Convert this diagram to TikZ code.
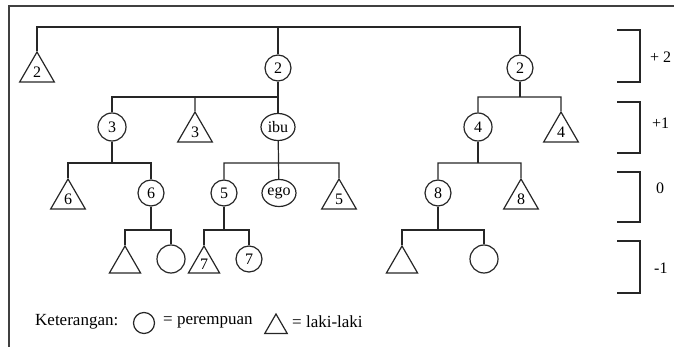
\documentclass[tikz,border=0pt]{standalone}
\usepackage{fontspec}
\setmainfont{Liberation Serif}
\usetikzlibrary{shapes.geometric,calc}
\begin{document}
\begin{tikzpicture}[x=1pt,y=-1pt,
  every node/.style={font=\fontsize{16}{19}\selectfont, inner sep=0pt},
  ln/.style={line width=1.2pt, draw=black!85},
  fem/.style={circle, ln, minimum size=26pt},
  femb/.style={circle, ln, minimum size=28pt},
  oval/.style={ellipse, ln, minimum width=34pt, minimum height=27pt},
  male/.style={regular polygon, regular polygon sides=3, ln, minimum size=40pt},
  males/.style={regular polygon, regular polygon sides=3, ln, minimum size=36pt},
  lab/.style={font=\fontsize{16}{19}\selectfont, anchor=west},
  leg/.style={font=\fontsize{17}{20}\selectfont, anchor=west}
]
\useasboundingbox (0,0) rectangle (674,347);
\draw[line width=1.4pt, draw=black!75] (9,347) -- (9,6) -- (674,6);

\coordinate (top) at (0,27);
\coordinate (b1) at (0,97);
\coordinate (b0) at (0,163);
\coordinate (bm) at (0,230);

% generation +2
\node[male] (t2L) at (37,72) {2};
\node[fem] (c2m) at (278,68) {2};
\node[fem] (c2r) at (520,68) {2};
% generation +1
\node[femb] (c3) at (112,127) {3};
\node[male] (t3) at (195,132) {3};
\node[oval] (ibu) at (278,127) {ibu};
\node[femb] (c4) at (478,127) {4};
\node[male] (t4) at (561,132) {4};
% generation 0
\node[male] (t6) at (68,199) {6};
\node[fem] (c6) at (151,193) {6};
\node[fem] (c5) at (224,193) {5};
\node[oval] (ego) at (279,193) {ego};
\node[male] (t5) at (339,199) {5};
\node[fem] (c8) at (438,193) {8};
\node[male] (t8) at (521,199) {8};
% generation -1
\node[males] (ta) at (125,264) {};
\node[femb] (ca) at (171,259) {};
\node[males] (t7) at (204,264) {7};
\node[fem] (c7) at (249,259) {7};
\node[males] (tb) at (402,264) {};
\node[femb] (cb) at (484,259) {};

% connectors
\draw[ln] (t2L.north) |- (top -| c2r) -- (c2r.north);
\draw[ln] (c2m.north) -- (c2m |- top);
\draw[ln] (c2m) -- (ibu);
\draw[ln] (c3.north) |- (b1 -| c2m);
\draw[ln] (t3.north) -- (t3 |- b1);
\draw[ln] (c2r.south) -- (c2r |- b1);
\draw[ln] (c4.north) |- (b1 -| t4) -- (t4.north);

\draw[ln] (c3.south) -- (c3 |- b0);
\draw[ln] (t6.north) |- (b0 -| c6) -- (c6.north);
\draw[ln] (ibu) -- (ego);
\draw[ln] (c5.north) |- (b0 -| t5) -- (t5.north);
\draw[ln] (c4.south) -- (c4 |- b0);
\draw[ln] (c8.north) |- (b0 -| t8) -- (t8.north);

\draw[ln] (c6.south) -- (c6 |- bm);
\draw[ln] (ta.north) |- (bm -| ca) -- (ca.north);
\draw[ln] (c5.south) -- (c5 |- bm);
\draw[ln] (t7.north) |- (bm -| c7) -- (c7.north);
\draw[ln] (c8.south) -- (c8 |- bm);
\draw[ln] (tb.north) |- (bm -| cb) -- (cb.north);

% generation brackets
\draw[ln] (617,30) -| (640,82) -- (617,82);
\draw[ln] (617,102) -| (640,153) -- (617,153);
\draw[ln] (617,172) -| (640,222) -- (617,222);
\draw[ln] (617,241) -| (640,293) -- (617,293);
\node[lab] (g2) at (650,57) {+ 2};
\node[lab] (g1) at (652,123) {+1};
\node[lab] (g0) at (656,188) {0};
\node[lab] (gm) at (654,268) {-1};

% legend
\node[leg] (ket) at (35,322) {Keterangan:};
\node[circle, ln, minimum size=21pt] (lc) at (144,323) {};
\node[leg] (lp) at (163,322) {= perempuan};
\node[regular polygon, regular polygon sides=3, ln, minimum size=26pt] (lt) at (276,327) {};
\node[leg] (ll) at (292,322) {= laki-laki};
\end{tikzpicture}
\end{document}
